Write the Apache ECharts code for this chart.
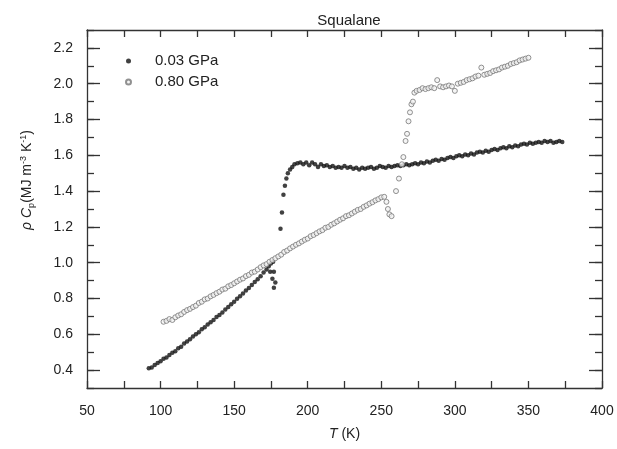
<!DOCTYPE html>
<html>
<head>
<meta charset="utf-8">
<script src="https://cdn.jsdelivr.net/npm/echarts@6/dist/echarts.min.js"></script>
<style>
  html, body { margin: 0; padding: 0; background: #fff; }
  #main { width: 617px; height: 449px; }
</style>
</head>
<body>
<div id="main"></div>
<script>
// tick labels
var xTickLabels = [50, 100, 150, 200, 250, 300, 350, 400]
var yTickLabels = [0.4, 0.6, 0.8, 1.0, 1.2, 1.4, 1.6, 1.8, 2.0, 2.2]

// 0.03 GPa (filled)
var t003 = [92, 94, 96, 98, 100, 102, 104, 106, 108, 110, 112, 114, 116, 118, 120, 122, 124, 126, 128, 130,
  132, 134, 136, 138, 140, 142, 144, 146, 148, 150, 152, 154, 156, 158, 160, 162, 164, 166, 168, 170,
  172, 173.5, 175, 176.5,
  174.5, 177, 176, 178, 177,
  181.5, 182.5, 183.5, 184.5, 185.5, 186.5, 188, 189.5, 191, 193, 195,
  197, 199, 201, 203, 205, 207, 209, 211, 213, 215, 217, 219, 221, 223, 225, 227, 229, 231, 233, 235,
  237, 239, 241, 243, 245, 247, 249, 251, 253, 255, 257, 259, 261, 263, 265, 267, 269, 271, 273, 275,
  277, 279, 281, 283, 285, 287, 289, 291, 293, 295, 297, 299, 301, 303, 305, 307, 309, 311, 313, 315,
  317, 319, 321, 323, 325, 327, 329, 331, 333, 335, 337, 339, 341, 343, 345, 347, 349, 351, 353, 355,
  357, 359, 361, 363, 365, 367, 369, 371, 373]
var rho003 = [0.410, 0.415, 0.428, 0.440, 0.450, 0.463, 0.470, 0.485, 0.497, 0.505, 0.522, 0.530, 0.548, 0.560, 0.572, 0.588, 0.600, 0.612, 0.628, 0.640,
  0.655, 0.668, 0.680, 0.696, 0.708, 0.722, 0.738, 0.752, 0.768, 0.782, 0.798, 0.812, 0.828, 0.845, 0.858, 0.875, 0.892, 0.908, 0.925, 0.945,
  0.962, 0.980, 0.995, 1.005,
  0.95, 0.95, 0.91, 0.89, 0.86,
  1.19, 1.28, 1.38, 1.43, 1.47, 1.50, 1.52, 1.535, 1.55, 1.555, 1.56,
  1.55, 1.56, 1.545, 1.56, 1.55, 1.535, 1.55, 1.54, 1.545, 1.535, 1.54, 1.53, 1.535, 1.53, 1.54, 1.53, 1.535, 1.525, 1.53, 1.52,
  1.53, 1.525, 1.53, 1.535, 1.525, 1.53, 1.54, 1.535, 1.53, 1.54, 1.535, 1.54, 1.545, 1.54, 1.545, 1.55, 1.545, 1.55, 1.555, 1.55,
  1.56, 1.555, 1.565, 1.56, 1.57, 1.575, 1.57, 1.58, 1.575, 1.585, 1.59, 1.585, 1.595, 1.60, 1.595, 1.605, 1.60, 1.61, 1.605, 1.615,
  1.62, 1.615, 1.625, 1.62, 1.63, 1.635, 1.63, 1.64, 1.645, 1.64, 1.65, 1.645, 1.655, 1.65, 1.66, 1.665, 1.66, 1.67, 1.665, 1.67,
  1.675, 1.67, 1.68, 1.675, 1.68, 1.67, 1.675, 1.68, 1.675]

// 0.80 GPa (open)
var t080 = [102, 104, 106, 108, 110, 112, 114, 116, 118, 120, 122, 124, 126, 128, 130, 132, 134, 136, 138, 140,
  142, 144, 146, 148, 150, 152, 154, 156, 158, 160, 162, 164, 166, 168, 170, 172, 174, 176, 178, 180,
  182, 184, 186, 188, 190, 192, 194, 196, 198, 200, 202, 204, 206, 208, 210, 212, 214, 216, 218, 220,
  222, 224, 226, 228, 230, 232, 234, 236, 238, 240, 242, 244, 246, 248, 250, 252,
  253.5, 254.5, 255.5, 257, 260,
  262, 264, 265, 266.5, 267.5, 268.5, 269.5, 270.5, 271.5, 272.5,
  274, 276, 278, 280, 282, 284, 286, 288, 290, 292, 294, 296, 298, 300, 302, 304, 306, 308, 310, 312,
  314, 316, 318, 320, 322, 324, 326, 328, 330, 332, 334, 336, 338, 340, 342, 344, 346, 348, 350]
var rho080 = [0.670, 0.675, 0.685, 0.680, 0.695, 0.705, 0.712, 0.725, 0.735, 0.742, 0.752, 0.760, 0.775, 0.782, 0.795, 0.800, 0.812, 0.820, 0.830, 0.838,
  0.850, 0.855, 0.868, 0.875, 0.885, 0.895, 0.905, 0.912, 0.925, 0.932, 0.945, 0.950, 0.962, 0.975, 0.985, 0.992, 1.005, 1.015, 1.025, 1.035,
  1.045, 1.060, 1.068, 1.080, 1.090, 1.100, 1.108, 1.118, 1.128, 1.135, 1.148, 1.155, 1.165, 1.175, 1.182, 1.195, 1.200, 1.212, 1.220, 1.230,
  1.240, 1.248, 1.260, 1.265, 1.275, 1.285, 1.295, 1.300, 1.312, 1.320, 1.330, 1.338, 1.348, 1.355, 1.365, 1.368,
  1.34, 1.30, 1.27, 1.26, 1.40,
  1.47, 1.55, 1.59, 1.68, 1.72, 1.79, 1.84, 1.885, 1.90, 1.95,
  1.96, 1.965, 1.975, 1.97, 1.975, 1.98, 1.975, 2.02, 1.985, 1.98, 1.985, 1.99, 1.985, 1.96, 2.00, 2.005, 2.01, 2.02, 2.025, 2.03,
  2.04, 2.045, 2.09, 2.05, 2.055, 2.06, 2.07, 2.075, 2.08, 2.09, 2.095, 2.10, 2.11, 2.115, 2.12, 2.13, 2.135, 2.14, 2.145]

var font = 'Liberation Sans, Arial, sans-serif'
var axisColor = '#333'

function pairs(xs, ys) {
  return xs.map(function (x, i) { return [x, ys[i]] })
}

function yAxisDef(pos, withLabels, long) {
  return {
    type: 'value', position: pos, min: 0.3, max: 2.3, interval: 0.1,
    splitLine: { show: false },
    axisLine: { show: long, lineStyle: { color: axisColor, width: 1.3 } },
    axisTick: long
      ? { show: true, inside: true, length: 13, customValues: yTickLabels, lineStyle: { color: axisColor, width: 1.3 } }
      : { show: true, inside: true, length: 7, lineStyle: { color: axisColor, width: 1.3 } },
    axisLabel: withLabels
      ? { show: true, customValues: yTickLabels, margin: 14, fontSize: 14, color: '#222', fontFamily: font,
          formatter: function (v) { return v.toFixed(1) } }
      : { show: false }
  }
}

function xAxisDef(pos, withLabels) {
  return {
    type: 'value', position: pos, min: 50, max: 400, interval: 25,
    splitLine: { show: false },
    axisLine: { show: true, onZero: false, lineStyle: { color: axisColor, width: 1.3 } },
    axisTick: { show: true, inside: true, length: 7, lineStyle: { color: axisColor, width: 1.3 } },
    axisLabel: withLabels
      ? { show: true, customValues: xTickLabels, margin: 16, fontSize: 14, color: '#222', fontFamily: font }
      : { show: false }
  }
}

var chart = echarts.init(document.getElementById('main'))
chart.setOption({
  animation: false,
  backgroundColor: '#fff',
  title: {
    text: 'Squalane', left: 344, top: 8, textAlign: 'center',
    textStyle: { fontSize: 15, fontWeight: 'normal', color: '#222', fontFamily: font }
  },
  grid: { left: 87, right: 15, top: 30, bottom: 61, outerBoundsMode: 'none' },
  legend: {
    orient: 'vertical', left: 125, top: 52, padding: 0, itemGap: 3,
    itemWidth: 5, itemHeight: 5,
    textStyle: { fontSize: 15, color: '#222', fontFamily: font, lineHeight: 18, padding: [0, 0, 0, 19] },
    data: ['0.03 GPa', '0.80 GPa']
  },
  xAxis: [
    Object.assign(xAxisDef('bottom', true), {
      name: '{i|T} (K)', nameLocation: 'middle', nameGap: 39,
      nameTextStyle: { fontSize: 14, color: '#222', fontFamily: font,
        rich: { i: { fontStyle: 'italic', fontSize: 14, color: '#222', fontFamily: font } } }
    }),
    xAxisDef('top', false)
  ],
  yAxis: [
    yAxisDef('left', true, true),
    yAxisDef('left', false, false),
    yAxisDef('right', false, true),
    yAxisDef('right', false, false)
  ],
  graphic: [{
    type: 'text', x: 27, y: 180, rotation: Math.PI / 2,
    style: {
      text: '{i|ρ} {i|C}{sub|p}(MJ m{sup|-3} K{sup|-1})',
      align: 'center', verticalAlign: 'middle',
      fontSize: 14, fill: '#222', fontFamily: font,
      rich: {
        i: { fontStyle: 'italic', fontSize: 14, fontFamily: font, lineHeight: 22, verticalAlign: 'middle' },
        sub: { fontSize: 9, fontFamily: font, lineHeight: 22, verticalAlign: 'bottom', padding: [0, 0, 2, 0] },
        sup: { fontSize: 9, fontFamily: font, lineHeight: 22, verticalAlign: 'top', padding: [3, 0, 0, 0] }
      }
    }
  }],
  series: [
    {
      name: '0.03 GPa', type: 'scatter', symbol: 'circle', symbolSize: 4.5,
      itemStyle: { color: '#111' },
      data: pairs(t003, rho003)
    },
    {
      name: '0.80 GPa', type: 'scatter', symbol: 'circle', symbolSize: 5,
      itemStyle: { color: '#f2f2f2', borderColor: '#777', borderWidth: 1 },
      data: pairs(t080, rho080)
    }
  ]
})
</script>
</body>
</html>
